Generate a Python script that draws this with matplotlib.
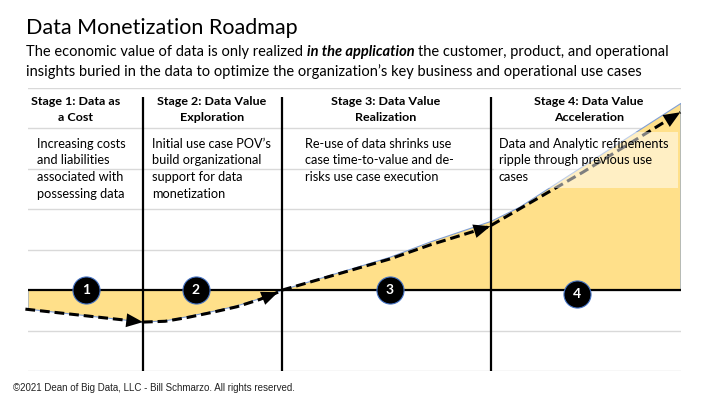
import matplotlib
matplotlib.use("Agg")
import matplotlib.pyplot as plt
from matplotlib.patches import Rectangle

# ---------------- data ----------------
title = "Data Monetization Roadmap"
subtitle_line1 = [("The economic value of data is only realized", "normal", "normal"),
                  ("in the application", "bold", "italic"),
                  ("the customer, product, and operational", "normal", "normal")]
subtitle_line2 = "insights buried in the data to optimize the organization’s key business and operational use cases"
footer = "©2021 Dean of Big Data, LLC - Bill Schmarzo. All rights reserved."

# value curve (filled area) along the roadmap
area_x = [0, 17.6, 21.0, 24.3, 28.2, 32.0, 35.5, 38.9, 47.0, 55.4, 61.6, 70.9, 75.3, 85.0, 100]
area_y = [-0.47, -0.79, -0.76, -0.66, -0.53, -0.39, -0.21, 0.0, 0.40, 0.81, 1.19, 1.70, 2.05, 3.06, 4.62]

# dashed arrows, one per stage
path_x = [[-0.4, 17.6],
          [17.6, 21.0, 24.3, 28.2, 32.0, 35.5, 38.3],
          [38.9, 55.4, 61.6, 70.8],
          [70.9, 85.0, 99.9]]
path_y = [[-0.47, -0.79],
          [-0.79, -0.77, -0.68, -0.55, -0.41, -0.23, -0.05],
          [0.0, 0.77, 1.12, 1.58],
          [1.60, 2.92, 4.40]]

stage_bounds = [17.6, 38.9, 70.9]
stage_titles = [["Stage 1: Data as", "a Cost"],
                ["Stage 2: Data Value", "Exploration"],
                ["Stage 3: Data Value", "Realization"],
                ["Stage 4: Data Value", "Acceleration"]]
stage_desc = [["Increasing costs", "and liabilities", "associated with", "possessing data"],
              ["Initial use case POV’s", "build organizational", "support for data", "monetization"],
              ["Re-use of data shrinks use", "case time-to-value and de-", "risks use case execution"],
              ["Data and Analytic refinements", "ripple through previous use", "cases"]]
marker_x = [8.9, 25.7, 55.4, 84.1]
marker_y = [0, 0, 0, -0.1]
marker_labels = ["1", "2", "3", "4"]
grid_levels = [-2, -1, 0, 1, 2, 3, 4, 5]

# ---------------- styles ----------------
W, H, DPI = 710, 399, 100
GOLD = "#FFE08A"
EDGE = "#7F9FD8"
FONT = "Lato"

def fx(px):
    return px / W

def fy(py):
    return 1 - py / H

fig = plt.figure(figsize=(W / DPI, H / DPI), dpi=DPI)
fig.patch.set_facecolor("white")

ax = fig.add_axes([fx(28), fy(371), 653 / W, 283 / H])
ax.set_xlim(0, 100)
ax.set_ylim(-2, 5)
for s in ax.spines.values():
    s.set_visible(False)
ax.set_yticks(grid_levels)
ax.set_xticks([])
ax.tick_params(length=0, labelleft=False, labelbottom=False)
ax.yaxis.grid(True, color="#D9D9D9", lw=1.0)
ax.set_axisbelow(True)

# filled area
poly_x = [area_x[0]] + area_x + [area_x[-1]]
poly_y = [0] + area_y + [0]
ax.fill(poly_x, poly_y, facecolor=GOLD, edgecolor=EDGE, lw=0.8, zorder=2)

# baseline and stage dividers
ax.axhline(0, color="black", lw=1.6, zorder=3)
ax.vlines(stage_bounds, -2, 4.77, color="black", lw=1.6, zorder=4)

# dashed arrows
for xs, ys in zip(path_x, path_y):
    ax.plot(xs, ys, color="black", lw=2.2, ls=(0, (3.2, 1.6)), zorder=5,
            solid_capstyle="butt", dash_capstyle="butt", clip_on=False)
    ax.annotate("", xy=(xs[-1], ys[-1]), xytext=(xs[-2], ys[-2]),
                arrowprops=dict(arrowstyle="-|>,head_length=0.6,head_width=0.25",
                                mutation_scale=20, color="black", lw=0,
                                shrinkA=0, shrinkB=0),
                zorder=6, annotation_clip=False)

# numbered markers
ax.scatter(marker_x, marker_y, s=380, c="black", edgecolors="#4472C4",
           linewidths=0.8, zorder=7)
for mx, my, lab in zip(marker_x, marker_y, marker_labels):
    ax.text(mx, my, lab, color="white", fontsize=10, fontweight="bold",
            ha="center", va="center", family=FONT, zorder=8)

# translucent box behind stage 4 description
fig.patches.append(Rectangle((fx(494), fy(188)), (678 - 494) / W, (188 - 132) / H,
                             transform=fig.transFigure, facecolor="white",
                             alpha=0.5, edgecolor="none", zorder=1))

fig.canvas.draw()
r = fig.canvas.get_renderer()

def width(t):
    return t.get_window_extent(r).width

def fit(t, target):
    for _ in range(2):
        t.set_fontsize(t.get_fontsize() * target / width(t))
    return t.get_fontsize()

# title
tt = fig.text(fx(26), fy(34), title, family=FONT, fontsize=16, va="baseline")
fit(tt, 272)

# subtitle line 1 (mixed styles)
def runs(line, size, x0, ybase):
    texts = []
    x = x0
    sp = None
    for txt, wgt, sty in line:
        t = fig.text(fx(x), fy(ybase), txt, family=FONT, fontsize=size,
                     fontweight=wgt, fontstyle=sty, va="baseline")
        if sp is None:
            a = fig.text(0, 0, "a a", family=FONT, fontsize=size)
            b = fig.text(0, 0, "aa", family=FONT, fontsize=size)
            sp = width(a) - width(b)
            a.remove(); b.remove()
        texts.append(t)
        x = x + width(t) + sp
    return texts, x - sp - x0

ts, tot = runs(subtitle_line1, 11, 26, 56)
for t in ts:
    t.remove()
sub_size = 11 * 642 / tot
ts, tot = runs(subtitle_line1, sub_size, 26, 56)
fig.text(fx(26), fy(76), subtitle_line2, family=FONT, fontsize=sub_size, va="baseline")

# stage headers
head_cx = [76, 212, 386, 589]
probe = fig.text(0, 0, stage_titles[1][0], family=FONT, fontsize=10, fontweight="bold")
head_size = fit(probe, 110)
probe.remove()
for cx, lines in zip(head_cx, stage_titles):
    for i, ln in enumerate(lines):
        fig.text(fx(cx), fy(105 + 16 * i), ln, family=FONT, fontsize=head_size,
                 fontweight="bold", ha="center", va="baseline")

# stage descriptions
desc_x = [37, 152, 305, 499]
probe = fig.text(0, 0, stage_desc[3][0], family=FONT, fontsize=10)
desc_size = fit(probe, 169)
probe.remove()
for dx, lines in zip(desc_x, stage_desc):
    for i, ln in enumerate(lines):
        fig.text(fx(dx), fy(147.7 + 16.7 * i), ln, family=FONT, fontsize=desc_size,
                 va="baseline", zorder=3)

# footer
ft = fig.text(fx(13), fy(391), footer, family="Liberation Sans", fontsize=7.5,
              va="baseline", color="#222222")
fit(ft, 285)

fig.savefig("out.png", dpi=DPI, facecolor="white")
